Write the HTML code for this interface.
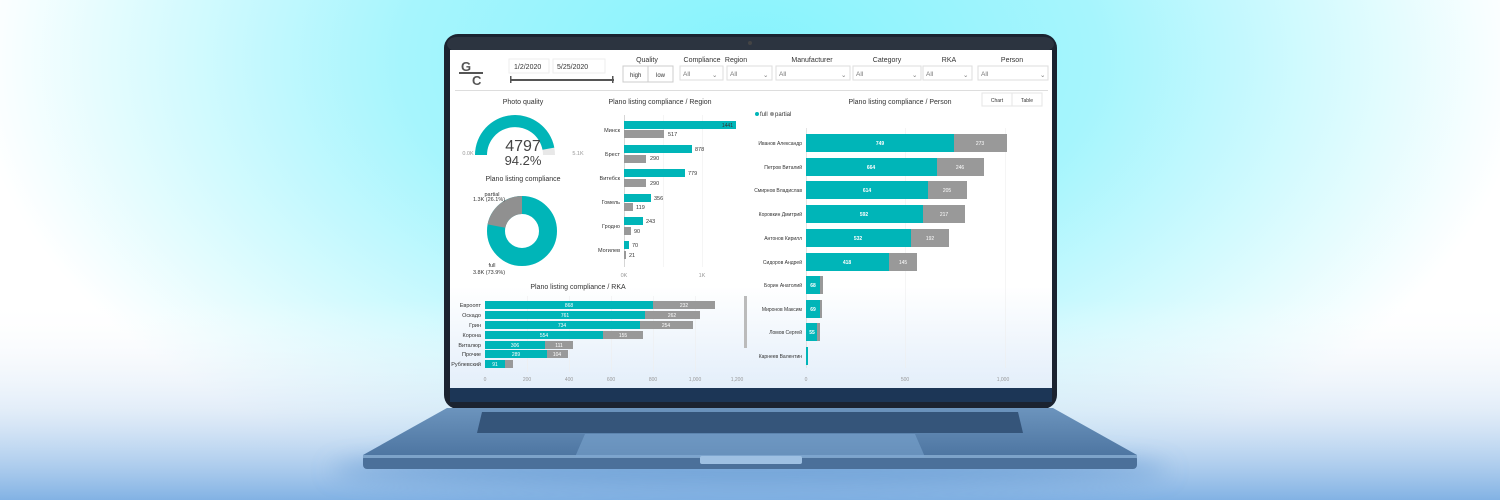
<!DOCTYPE html>
<html><head><meta charset="utf-8"><style>
html,body{margin:0;padding:0;width:1500px;height:500px;overflow:hidden}
svg{display:block}
text{font-family:"Liberation Sans",sans-serif}
</style></head><body>
<svg width="1500" height="500" viewBox="0 0 1500 500" xmlns="http://www.w3.org/2000/svg">
<defs>
<radialGradient id="cy" cx="750" cy="60" r="620" gradientUnits="userSpaceOnUse" gradientTransform="translate(750 60) scale(1.25 0.75) translate(-750 -60)">
<stop offset="0" stop-color="#86f3fd"/><stop offset="0.45" stop-color="#a6f5fd"/><stop offset="1" stop-color="#ffffff"/></radialGradient>
<linearGradient id="bot" x1="0" y1="0" x2="0" y2="1">
<stop offset="0" stop-color="#ffffff" stop-opacity="0"/><stop offset="0.55" stop-color="#cfe1f4" stop-opacity="0.6"/><stop offset="1" stop-color="#82b2e4"/></linearGradient>
<linearGradient id="base" x1="0" y1="0" x2="0" y2="1">
<stop offset="0" stop-color="#6c94bd"/><stop offset="1" stop-color="#4e76a2"/></linearGradient>
<linearGradient id="scr" x1="0" y1="0" x2="0" y2="1">
<stop offset="0" stop-color="#ffffff"/><stop offset="0.7" stop-color="#ffffff"/><stop offset="1" stop-color="#e3eefa"/></linearGradient>
<filter id="bl" x="-20%" y="-200%" width="140%" height="500%"><feGaussianBlur stdDeviation="12"/></filter>
</defs>
<rect width="1500" height="500" fill="url(#cy)"/>
<rect y="300" width="1500" height="200" fill="url(#bot)"/>
<ellipse cx="750" cy="470" rx="420" ry="18" fill="#5f95d0" opacity="0.7" filter="url(#bl)"/>
<!-- bezel -->
<rect x="444" y="34" width="613" height="375" rx="14" fill="#1b2330"/>
<rect x="447" y="37" width="607" height="14" rx="10" fill="#2c3440"/>
<circle cx="750" cy="43" r="2" fill="#444"/>
<rect x="450" y="50" width="602" height="338" fill="url(#scr)"/>
<rect x="450" y="388" width="602" height="14" fill="#1c3656"/>
<!-- base -->
<polygon points="447,408 1053,408 1137,455 363,455" fill="url(#base)"/>
<rect x="363" y="455" width="774" height="14" rx="4" fill="#4b709a"/>
<rect x="363" y="455" width="774" height="3" fill="#7da3c9"/>
<polygon points="482,412 1018,412 1023,433 477,433" fill="#35557a"/>
<polygon points="585,434 915,434 925,457 575,457" fill="#7ea8d2" opacity="0.55"/>
<rect x="700" y="456" width="102" height="8" rx="2" fill="#9ec0e2"/>
<!-- header -->
<g font-size="7" fill="#333">
<text x="461" y="71" font-size="13" font-weight="bold" fill="#555">G</text>
<rect x="459" y="72" width="24" height="2" fill="#555"/>
<text x="472" y="85" font-size="13" font-weight="bold" fill="#555">C</text>
<rect x="509" y="59" width="40" height="14" fill="#fff" stroke="#eee"/>
<text x="514" y="69">1/2/2020</text>
<rect x="553" y="59" width="52" height="14" fill="#fff" stroke="#eee"/>
<text x="557" y="69">5/25/2020</text>
<rect x="510" y="79" width="104" height="2" fill="#555"/>
<rect x="510" y="76" width="1.5" height="7" fill="#555"/><rect x="612" y="76" width="1.5" height="7" fill="#555"/>
<text x="647" y="62" text-anchor="middle">Quality</text>
<rect x="623" y="66" width="25" height="16" fill="#fff" stroke="#ccc"/><text x="630" y="77" font-size="6">high</text>
<rect x="648" y="66" width="25" height="16" fill="#fff" stroke="#ccc"/><text x="656" y="77" font-size="6">low</text>
<text x="702" y="62" text-anchor="middle">Compliance</text>
<text x="736" y="62" text-anchor="middle">Region</text>
<text x="812" y="62" text-anchor="middle">Manufacturer</text>
<text x="887" y="62" text-anchor="middle">Category</text>
<text x="949" y="62" text-anchor="middle">RKA</text>
<text x="1012" y="62" text-anchor="middle">Person</text>
<g fill="#fff" stroke="#ddd"><rect x="680" y="66" width="43" height="14"/><rect x="727" y="66" width="45" height="14"/><rect x="776" y="66" width="74" height="14"/><rect x="853" y="66" width="68" height="14"/><rect x="923" y="66" width="49" height="14"/><rect x="978" y="66" width="70" height="14"/></g>
<g fill="#777" font-size="6.5"><text x="683" y="76">All</text><text x="730" y="76">All</text><text x="779" y="76">All</text><text x="856" y="76">All</text><text x="926" y="76">All</text><text x="981" y="76">All</text>
<text x="712" y="77">⌄</text><text x="763" y="77">⌄</text><text x="841" y="77">⌄</text><text x="912" y="77">⌄</text><text x="963" y="77">⌄</text><text x="1040" y="77">⌄</text></g>
<rect x="455" y="90" width="593" height="1" fill="#ddd"/>
</g>
<!-- gauge -->
<g font-size="7" fill="#333">
<text x="523" y="104" text-anchor="middle">Photo quality</text>
<path d="M475,155 A40,40 0 0 1 555,155 L543,155 A28,28 0 0 0 487,155 Z" fill="#e8e8e8"/>
<path d="M475,155 A40,40 0 0 1 554.3,147.6 L542.5,149.8 A28,28 0 0 0 487,155 Z" fill="#00b5b8"/>
<text x="523" y="151" text-anchor="middle" font-size="16" fill="#444">4797</text>
<text x="523" y="165" text-anchor="middle" font-size="13" fill="#444">94.2%</text>
<text x="468" y="155" font-size="5.5" fill="#999" text-anchor="middle">0.0K</text>
<text x="578" y="155" font-size="5.5" fill="#999" text-anchor="middle">5.1K</text>
<text x="523" y="181" text-anchor="middle">Plano listing compliance</text>
<circle cx="522" cy="231" r="26" fill="none" stroke="#00b5b8" stroke-width="18"/>
<path d="M522,196 A35,35 0 0 0 487.6,224.4 L505.3,227.8 A17,17 0 0 1 522,214 Z" fill="#909090"/>
<text x="492" y="196" font-size="5.5" text-anchor="middle">partial</text>
<text x="489" y="201" font-size="5.5" text-anchor="middle">1.3K (26.1%)</text>
<text x="492" y="267" font-size="5.5" text-anchor="middle">full</text>
<text x="489" y="274" font-size="5.5" text-anchor="middle">3.8K (73.9%)</text>
</g>
<!-- region -->
<g font-size="5.5" fill="#333">
<text x="660" y="104" text-anchor="middle" font-size="7">Plano listing compliance / Region</text>
<rect x="663" y="115" width="0.6" height="152" fill="#eee"/><rect x="702" y="115" width="0.6" height="152" fill="#eee"/>
<rect x="624" y="115" width="0.8" height="152" fill="#ccc"/>
<g fill="#00b5b8"><rect x="624" y="121" width="112" height="8"/><rect x="624" y="145" width="68" height="8"/><rect x="624" y="169" width="61" height="8"/><rect x="624" y="194" width="27" height="8"/><rect x="624" y="217" width="19" height="8"/><rect x="624" y="241" width="5" height="8"/></g>
<g fill="#999"><rect x="624" y="130" width="40" height="8"/><rect x="624" y="155" width="22" height="8"/><rect x="624" y="179" width="22" height="8"/><rect x="624" y="203" width="9" height="8"/><rect x="624" y="227" width="7" height="8"/><rect x="624" y="251" width="2" height="8"/></g>
<text x="733" y="127" fill="#333" text-anchor="end" font-size="5">1441</text>
<text x="668" y="136">517</text><text x="695" y="151">878</text><text x="650" y="160">290</text><text x="688" y="175">779</text><text x="650" y="185">290</text>
<text x="654" y="200">356</text><text x="636" y="209">119</text><text x="646" y="223">243</text><text x="634" y="233">90</text><text x="632" y="247">70</text><text x="629" y="257">21</text>
<g text-anchor="end"><text x="620" y="132">Минск</text><text x="620" y="156">Брест</text><text x="620" y="180">Витебск</text><text x="620" y="204">Гомель</text><text x="620" y="228">Гродно</text><text x="620" y="252">Могилев</text></g>
<text x="624" y="277" fill="#999" text-anchor="middle">0K</text><text x="702" y="277" fill="#999" text-anchor="middle">1K</text>
</g>
<!-- RKA -->
<g font-size="5.5" fill="#333">
<text x="578" y="289" text-anchor="middle" font-size="7">Plano listing compliance / RKA</text>
<g fill="#eee"><rect x="527" y="296" width="0.6" height="76"/><rect x="569" y="296" width="0.6" height="76"/><rect x="611" y="296" width="0.6" height="76"/><rect x="653" y="296" width="0.6" height="76"/><rect x="695" y="296" width="0.6" height="76"/></g>
<g fill="#00b5b8"><rect x="485" y="301" width="168" height="8"/><rect x="485" y="311" width="160" height="8"/><rect x="485" y="321" width="155" height="8"/><rect x="485" y="331" width="118" height="8"/><rect x="485" y="341" width="60" height="8"/><rect x="485" y="350" width="62" height="8"/><rect x="485" y="360" width="20" height="8"/></g>
<g fill="#999"><rect x="653" y="301" width="62" height="8"/><rect x="645" y="311" width="55" height="8"/><rect x="640" y="321" width="53" height="8"/><rect x="603" y="331" width="40" height="8"/><rect x="545" y="341" width="28" height="8"/><rect x="547" y="350" width="21" height="8"/><rect x="505" y="360" width="8" height="8"/></g>
<g fill="#fff" text-anchor="middle" font-size="5"><text x="569" y="307">868</text><text x="684" y="307">232</text><text x="565" y="317">761</text><text x="672" y="317">262</text><text x="562" y="327">734</text><text x="666" y="327">254</text><text x="544" y="337">554</text><text x="623" y="337">155</text><text x="515" y="347">306</text><text x="559" y="347">111</text><text x="516" y="356">289</text><text x="557" y="356">104</text><text x="495" y="366">91</text></g>
<g text-anchor="end"><text x="481" y="307">Евроопт</text><text x="481" y="317">Оскадо</text><text x="481" y="327">Грин</text><text x="481" y="337">Корона</text><text x="481" y="347">Виталюр</text><text x="481" y="356">Прочие</text><text x="481" y="366">Рублевский</text></g>
<g fill="#999" text-anchor="middle" font-size="5"><text x="485" y="381">0</text><text x="527" y="381">200</text><text x="569" y="381">400</text><text x="611" y="381">600</text><text x="653" y="381">800</text><text x="695" y="381">1,000</text><text x="737" y="381">1,200</text></g>
<rect x="744" y="296" width="3" height="52" fill="#bbb"/>
</g>
<!-- person -->
<g font-size="5" fill="#333">
<text x="900" y="104" text-anchor="middle" font-size="7">Plano listing compliance / Person</text>
<rect x="982" y="93" width="30" height="13" fill="#fff" stroke="#e5e5e5"/><rect x="1012" y="93" width="30" height="13" fill="#fff" stroke="#e5e5e5"/>
<text x="997" y="102" text-anchor="middle">Chart</text><text x="1027" y="102" text-anchor="middle">Table</text>
<circle cx="757" cy="114" r="2" fill="#00b5b8"/><text x="760" y="116" font-size="6">full</text><circle cx="772" cy="114" r="2" fill="#999"/><text x="775" y="116" font-size="6">partial</text>
<g fill="#eee"><rect x="905" y="128" width="0.6" height="240"/><rect x="1005" y="128" width="0.6" height="240"/></g>
<rect x="806" y="128" width="0.8" height="240" fill="#ddd"/>
<g fill="#00b5b8"><rect x="806" y="134" width="148" height="18"/><rect x="806" y="158" width="131" height="18"/><rect x="806" y="181" width="122" height="18"/><rect x="806" y="205" width="117" height="18"/><rect x="806" y="229" width="105" height="18"/><rect x="806" y="253" width="83" height="18"/><rect x="806" y="276" width="14" height="18"/><rect x="806" y="300" width="14" height="18"/><rect x="806" y="323" width="11" height="18"/><rect x="806" y="347" width="2" height="18"/></g>
<g fill="#999"><rect x="954" y="134" width="53" height="18"/><rect x="937" y="158" width="47" height="18"/><rect x="928" y="181" width="39" height="18"/><rect x="923" y="205" width="42" height="18"/><rect x="911" y="229" width="38" height="18"/><rect x="889" y="253" width="28" height="18"/><rect x="820" y="276" width="3" height="18"/><rect x="820" y="300" width="2" height="18"/><rect x="817" y="323" width="3" height="18"/></g>
<g fill="#fff" text-anchor="middle" font-weight="bold"><text x="880" y="145">749</text><text x="980" y="145" font-weight="normal">273</text><text x="871" y="169">664</text><text x="960" y="169" font-weight="normal">246</text><text x="867" y="192">614</text><text x="947" y="192" font-weight="normal">205</text><text x="864" y="216">592</text><text x="944" y="216" font-weight="normal">217</text><text x="858" y="240">532</text><text x="930" y="240" font-weight="normal">192</text><text x="847" y="264">418</text><text x="903" y="264" font-weight="normal">145</text><text x="813" y="287">68</text><text x="813" y="311">69</text><text x="812" y="334">55</text></g>
<g text-anchor="end"><text x="802" y="145">Иванов Александр</text><text x="802" y="169">Петров Виталий</text><text x="802" y="192">Смирнов Владислав</text><text x="802" y="216">Коровкин Дмитрий</text><text x="802" y="240">Антонов Кирилл</text><text x="802" y="264">Сидоров Андрей</text><text x="802" y="287">Борин Анатолий</text><text x="802" y="311">Миронов Максим</text><text x="802" y="334">Ломов Сергей</text><text x="802" y="358">Карнеев Валентин</text></g>
<g fill="#999" text-anchor="middle"><text x="806" y="381">0</text><text x="905" y="381">500</text><text x="1003" y="381">1,000</text></g>
</g>
</svg>
</body></html>
